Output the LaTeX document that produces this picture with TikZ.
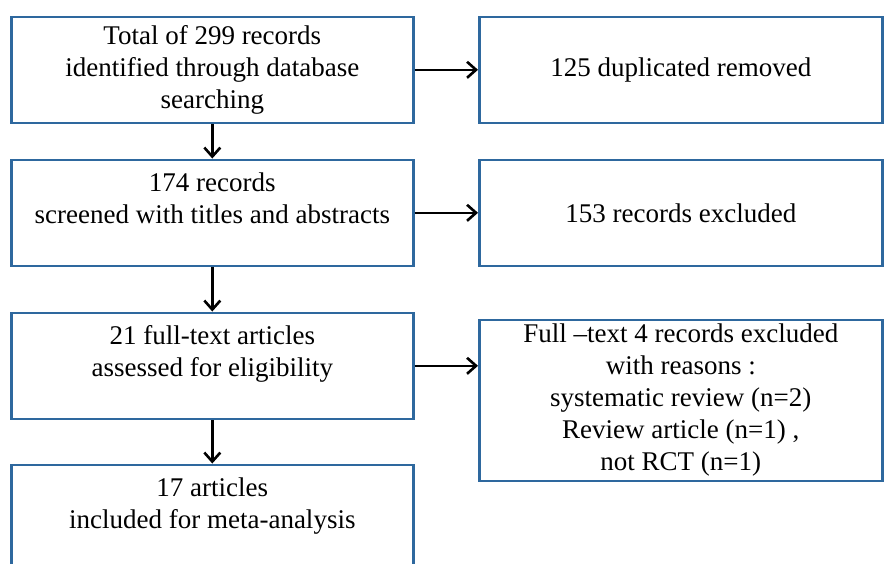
\documentclass[tikz,border=0pt]{standalone}
\usepackage{fontspec}
\setmainfont{Liberation Serif}
\usepackage{tikz}
\usetikzlibrary{arrows.meta,positioning}
\definecolor{boxblue}{RGB}{46,104,158}
\tikzstyle{stagebox}=[rectangle, draw=boxblue, line width=2.6pt, fill=white, align=center,
  inner sep=0pt, font=\fontsize{27}{32}\selectfont]
\tikzstyle{flowarrow}=[black, line width=2.6pt, -{Straight Barb[length=9pt,width=16pt]}]

\begin{document}
\begin{tikzpicture}
  \clip (0,0) rectangle (894pt,-563pt);
  % identification and screening
  \node[stagebox, minimum width=402pt, minimum height=106pt, anchor=north west]
    (records) at (10pt,-15.5pt) {Total of 299 records\\ identified through database\\ searching};
  \node[stagebox, minimum width=402pt, minimum height=106pt, below=34.4pt of records]
    (screened) {174 records\\ screened with titles and abstracts\\[-12pt] \strut};
  \node[stagebox, minimum width=402pt, minimum height=106pt, below=44.4pt of screened]
    (eligible) {21 full-text articles\\ assessed for eligibility\\[-12pt] \strut};
  \node[stagebox, minimum width=402pt, minimum height=106pt, below=43.4pt of eligible]
    (included) {17 articles\\ included for meta-analysis\\[-12pt] \strut};
  % excluded
  \node[stagebox, minimum width=403pt, minimum height=106pt, right=63.4pt of records]
    (duplicates) {125 duplicated removed};
  \node[stagebox, minimum width=403pt, minimum height=106pt, below=34.4pt of duplicates]
    (excluded) {153 records excluded};
  \node[stagebox, minimum width=403pt, minimum height=161pt, below=51.4pt of excluded]
    (reasons) {Full --text 4 records excluded\\ with reasons :\\ systematic review (n=2)\\
    Review article (n=1) ,\\ not RCT (n=1)};
  % lines
  \draw[flowarrow] (records) -- (screened);
  \draw[flowarrow] (screened) -- (eligible);
  \draw[flowarrow] (eligible) -- (included);
  \draw[flowarrow] (records) -- (duplicates);
  \draw[flowarrow] (screened) -- (excluded);
  \draw[flowarrow] (eligible.east) -- (eligible.east -| reasons.west);
\end{tikzpicture}
\end{document}
